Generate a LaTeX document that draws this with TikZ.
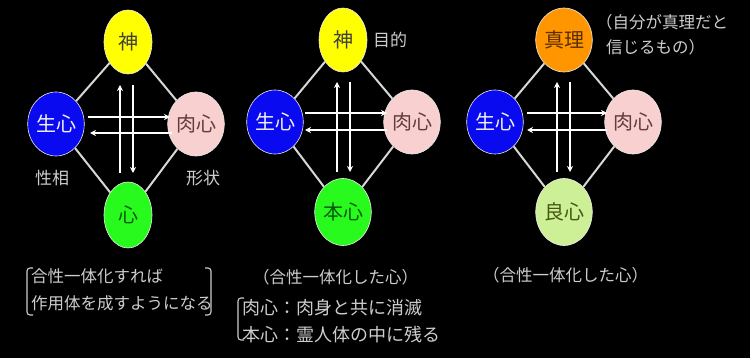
\documentclass[tikz,border=0pt]{standalone}
\usepackage{fontspec}
\setmainfont{Noto Sans CJK JP}
\usetikzlibrary{shapes.geometric,arrows.meta}
\definecolor{cyel}{RGB}{255,255,0}
\definecolor{cblue}{RGB}{10,10,240}
\definecolor{cpink}{RGB}{248,208,208}
\definecolor{cgreen}{RGB}{40,250,30}
\definecolor{corange}{RGB}{255,150,0}
\definecolor{clgreen}{RGB}{205,240,150}
\definecolor{labgray}{RGB}{205,205,205}
\definecolor{linegray}{RGB}{215,215,215}
\tikzset{
  circ/.style={ellipse, draw=white!85!gray, line width=0.6pt, minimum width=48pt, minimum height=64pt, inner sep=0pt, font=\fontsize{20}{20}\selectfont},
  edge/.style={draw=linegray, line width=2pt},
  arr/.style={draw=white, line width=1.8pt, -{Stealth[length=6pt,width=6pt]}},
  lab/.style={text=labgray, font=\fontsize{17}{17}\selectfont, inner sep=0pt},
  txt/.style={text=labgray, font=\fontsize{16.5}{16.5}\selectfont, inner sep=0pt, anchor=west},
  brk/.style={draw=labgray, line width=1.1pt, rounded corners=3pt}
}
\begin{document}
\begin{tikzpicture}[x=1pt,y=-1pt]
\fill[black] (0,0) rectangle (750,358);
\useasboundingbox (0,0) rectangle (750,358);

% ---------- Diagram 1 ----------
\node[circ, fill=cyel, text=black!75] (t1) at (128,42) {神};
\node[circ, fill=cblue, text=white!90!gray] (l1) at (56,124) {生心};
\node[circ, fill=cpink, text={rgb,255:red,100;green,60;blue,60}] (r1) at (196,124) {肉心};
\node[circ, fill=cgreen, minimum height=66pt, text={rgb,255:red,10;green,90;blue,10}] (b1) at (128,215) {心};
\draw[edge] (t1) -- (l1);
\draw[edge] (t1) -- (r1);
\draw[edge] (l1) -- (b1);
\draw[edge] (r1) -- (b1);
\coordinate (h1a) at (88,117); \coordinate (h1b) at (170,117);
\coordinate (h1c) at (172,133); \coordinate (h1d) at (90,133);
\coordinate (v1a) at (120,173); \coordinate (v1b) at (120,85);
\coordinate (v1c) at (133,85); \coordinate (v1d) at (133,173);
\draw[arr] (h1a) -- (h1b);
\draw[arr] (h1c) -- (h1d);
\draw[arr] (v1a) -- (v1b);
\draw[arr] (v1c) -- (v1d);
\node[lab] (s1) at (52,178) {性相};
\node[lab] (f1) at (203,178) {形状};

% ---------- Diagram 2 ----------
\node[circ, fill=cyel, text=black!75] (t2) at (343,40) {神};
\node[circ, fill=cblue, text=white!90!gray] (l2) at (275,122) {生心};
\node[circ, fill=cpink, text={rgb,255:red,100;green,60;blue,60}] (r2) at (412,122) {肉心};
\node[circ, fill=cgreen, minimum height=67pt, text={rgb,255:red,10;green,90;blue,10}] (b2) at (343,212) {本心};
\draw[edge] (t2) -- (l2);
\draw[edge] (t2) -- (r2);
\draw[edge] (l2) -- (b2);
\draw[edge] (r2) -- (b2);
\coordinate (h2a) at (305,113); \coordinate (h2b) at (387,113);
\coordinate (h2c) at (387,130); \coordinate (h2d) at (305,130);
\coordinate (v2a) at (337,172); \coordinate (v2b) at (337,82);
\coordinate (v2c) at (350,82); \coordinate (v2d) at (350,172);
\draw[arr] (h2a) -- (h2b);
\draw[arr] (h2c) -- (h2d);
\draw[arr] (v2a) -- (v2b);
\draw[arr] (v2c) -- (v2d);
\node[lab] (m2) at (390,40) {目的};

% ---------- Diagram 3 ----------
\node[circ, fill=corange, text={rgb,255:red,90;green,45;blue,0}] (t3) at (564,40) {真理};
\node[circ, fill=cblue, text=white!90!gray] (l3) at (495,122) {生心};
\node[circ, fill=cpink, text={rgb,255:red,100;green,60;blue,60}] (r3) at (633,122) {肉心};
\node[circ, fill=clgreen, minimum height=67pt, text={rgb,255:red,70;green,85;blue,20}] (b3) at (564,212) {良心};
\draw[edge] (t3) -- (l3);
\draw[edge] (t3) -- (r3);
\draw[edge] (l3) -- (b3);
\draw[edge] (r3) -- (b3);
\coordinate (h3a) at (527,113); \coordinate (h3b) at (607,113);
\coordinate (h3c) at (607,130); \coordinate (h3d) at (527,130);
\coordinate (v3a) at (557,172); \coordinate (v3b) at (557,82);
\coordinate (v3c) at (570,82); \coordinate (v3d) at (570,172);
\draw[arr] (h3a) -- (h3b);
\draw[arr] (h3c) -- (h3d);
\draw[arr] (v3a) -- (v3b);
\draw[arr] (v3c) -- (v3d);
\node[txt] (n3a) at (596,22) {（自分が真理だと};
\node[txt] (n3b) at (606,47) {信じるもの）};

% ---------- Bottom texts ----------
\node[txt] (bt1) at (31,276) {合性一体化すれば};
\node[txt] (bt2) at (31,303) {作用体を成すようになる};
\draw[brk] (33,268) -- (27,268) -- (27,315) -- (33,315);
\draw[brk] (205,268) -- (211,268) -- (211,315) -- (205,315);

\node[txt] (bt3) at (253,277) {（合性一体化した心）};
\node[txt, font=\fontsize{18}{18}\selectfont] (bt4) at (242,308) {肉心：肉身と共に消滅};
\node[txt, font=\fontsize{18}{18}\selectfont] (bt5) at (242,335) {本心：霊人体の中に残る};
\draw[brk] (244,298) -- (238,298) -- (238,340) -- (244,340);

\node[txt] (bt6) at (483,275) {（合性一体化した心）};
\end{tikzpicture}
\end{document}
